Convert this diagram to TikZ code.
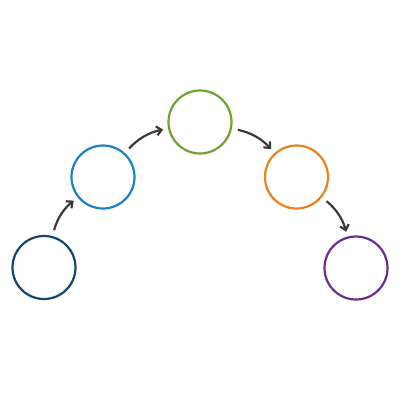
\documentclass[tikz,border=0pt]{standalone}
\usepackage{xcolor}
\usepackage{tikz}
\usetikzlibrary{arrows.meta}

\definecolor{navy}{HTML}{12466E}
\definecolor{sky}{HTML}{1B82BE}
\definecolor{leaf}{HTML}{6FA22E}
\definecolor{amber}{HTML}{E8821E}
\definecolor{plum}{HTML}{6B2D8F}
\definecolor{ink}{HTML}{3A3A3A}

\begin{document}
\begin{tikzpicture}[x=1pt,y=-1pt]
  \tikzset{every node/.style={shape=circle,draw,line width=2.2pt,inner sep=0pt,minimum size=63pt}};
  \tikzset{step arrow/.style={ink,line width=2.2pt,-{Straight Barb[length=5pt,width=9pt]},bend left=18,shorten <=6pt,shorten >=5pt}};
  \useasboundingbox (0,0) rectangle (400,400);
  \node[navy]  (A) at (44,267.5){};
  \node[sky]   (B) at (103,177){};
  \node[leaf]  (C) at (200,122){};
  \node[amber] (D) at (296.5,177){};
  \node[plum]  (E) at (356,268){};
  \draw[step arrow] (A) to (B);
  \draw[step arrow] (B) to (C);
  \draw[step arrow] (C) to (D);
  \draw[step arrow] (D) to (E);
\end{tikzpicture}
\end{document}
